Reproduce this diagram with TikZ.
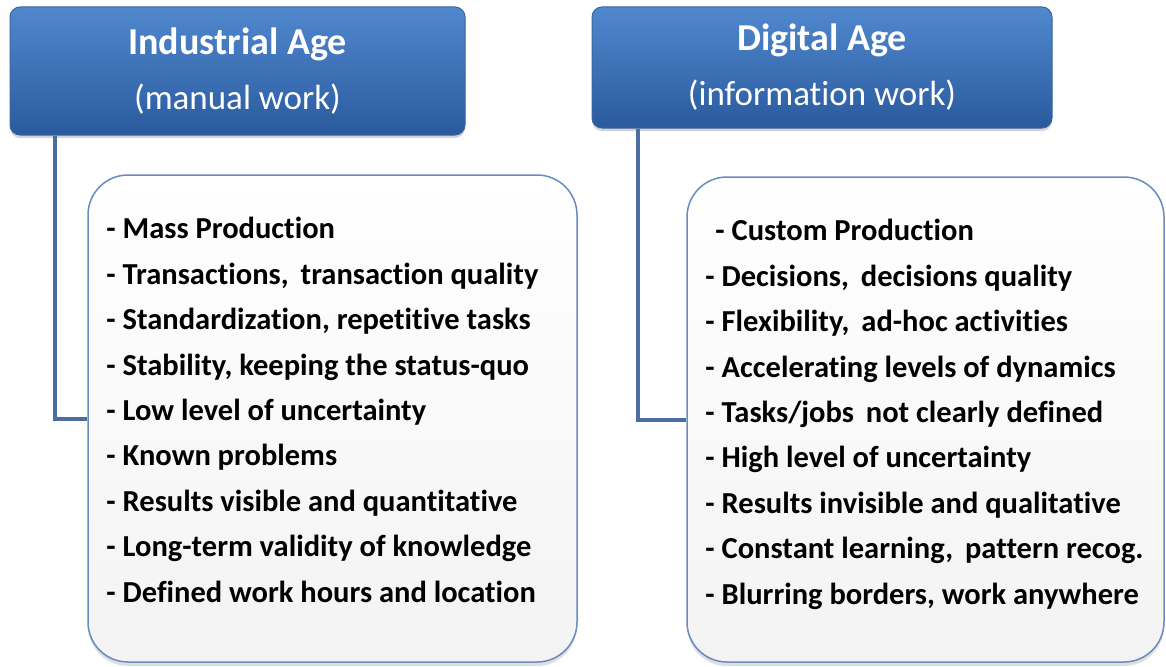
\documentclass[tikz,border=0pt]{standalone}
\usepackage{fontspec}
\setmainfont[Ligatures=NoCommon]{Carlito}
\usetikzlibrary{positioning,shadows}
\definecolor{hdrtop}{RGB}{80,136,206}
\definecolor{hdrbot}{RGB}{42,90,158}
\definecolor{hdrline}{RGB}{58,102,160}
\definecolor{linkblue}{RGB}{74,110,162}
\definecolor{boxline}{RGB}{104,140,192}
\definecolor{boxfill}{RGB}{243,243,243}

\begin{document}
\begin{tikzpicture}[x=1pt,y=-1pt,
    hdr/.style={rectangle,rounded corners=10pt,draw=hdrline,line width=1pt,top color=hdrtop,bottom color=hdrbot,
        text=white,align=center,inner sep=0pt,font=\fontsize{35}{55}\selectfont,
        drop shadow={opacity=0.35,shadow xshift=0pt,shadow yshift=-3pt}},
    listbox/.style={rectangle,rounded corners=40pt,draw=boxline,line width=1.5pt,top color=white,bottom color=boxfill,
        drop shadow={opacity=0.25,shadow xshift=0pt,shadow yshift=-4pt}},
    items/.style={anchor=north west,inner sep=0pt,align=left,font=\bfseries\fontsize{30.5}{45.4}\selectfont},
    link/.style={draw=linkblue,line width=4pt}]
    \useasboundingbox (0,0) rectangle (1166,666);

    % headers
    \node[hdr,minimum width=455pt,minimum height=128pt] (indhdr) at (237.5,71) {{\bfseries\fontsize{38}{55}\selectfont Industrial Age}\\(manual work)};
    \node[hdr,minimum width=460pt,minimum height=121pt] (dighdr) at (822,67.5) {{\bfseries\fontsize{38}{55}\selectfont Digital Age}\\(information work)};

    % lists
    \node[listbox,minimum width=489pt,minimum height=487pt] (indbox) at (332.5,418.5) {};
    \node[listbox,minimum width=477pt,minimum height=485pt] (digbox) at (925.5,419.5) {};

    \node[items] (indtext) at ([xshift=19pt,yshift=-43pt]indbox.north west) {%
        - Mass Production\\
        - Transactions, \,transaction quality\\
        - Standardization, repetitive tasks\\
        - Stability, keeping the status-quo\\
        - Low level of uncertainty\\
        - Known problems\\
        - Results visible and quantitative\\
        - Long-term validity of knowledge\\
        - Defined work hours and location};
    \node[items] (digtext) at ([xshift=19pt,yshift=-43pt]digbox.north west) {%
        \hspace{10pt}- Custom Production\\
        - Decisions, \,decisions quality\\
        - Flexibility, \,ad-hoc activities\\
        - Accelerating levels of dynamics\\
        - Tasks/jobs \,not clearly defined\\
        - High level of uncertainty\\
        - Results invisible and qualitative\\
        - Constant learning, \,pattern recog.\\
        - Blurring borders, work anywhere};

    % connectors
    \draw[link] ([xshift=45pt]indhdr.south west) |- (indbox.west);
    \draw[link] ([xshift=46pt]dighdr.south west) |- (digbox.west);
\end{tikzpicture}
\end{document}
